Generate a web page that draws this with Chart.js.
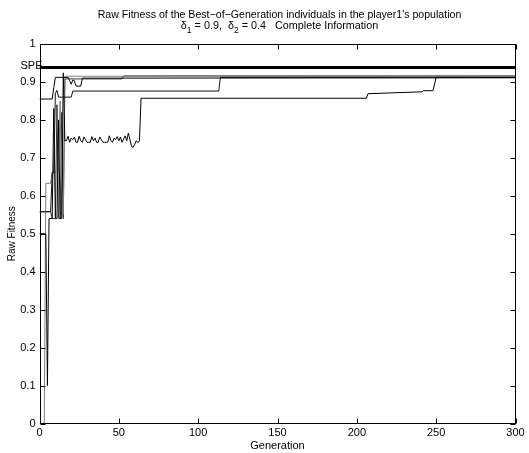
<!DOCTYPE html>
<html>
<head>
<meta charset="utf-8">
<script src="https://cdn.jsdelivr.net/npm/chart.js@4"></script>
<style>
  html, body { margin: 0; padding: 0; background: #fff; }
  #wrap { width: 529px; height: 453px; }
</style>
</head>
<body>
<div id="wrap"><canvas id="fitness"></canvas></div>
<script>
// chart data
const titleLine1 = "Raw Fitness of the Best\u2212of\u2212Generation individuals in the player1's population";
const titleLine2 = ["\u03b4", "1", " = 0.9,  \u03b4", "2", " = 0.4   Complete Information"];
const xTitle = "Generation";
const yTitle = "Raw Fitness";

const xTicks = [0, 50, 100, 150, 200, 250, 300];
const yTicks = [0, 0.1, 0.2, 0.3, 0.4, 0.5, 0.6, 0.7, 0.8, 0.9, 1];
const yTickLabels = ["0", "0.1", "0.2", "0.3", "0.4", "0.5", "0.6", "0.7", "0.8", "0.9", "1"];

const speLabel = "SPE";
const speGens = [0, 300];
const speVals = [0.938, 0.938];

// run A: starts high, small dips early
const aGens = [0, 8, 9, 10, 18, 19, 20, 21, 22, 23, 26, 27, 28, 300];
const aVals = [0.855, 0.855, 0.885, 0.912, 0.912, 0.903, 0.894, 0.905, 0.903, 0.889, 0.889, 0.91, 0.91, 0.911];

// run B
const bGens = [0, 7, 8, 9, 10, 11, 12, 20, 21, 113, 114, 300];
const bVals = [0.558, 0.558, 0.66, 0.66, 0.87, 0.878, 0.86, 0.86, 0.876, 0.876, 0.912, 0.912];

// run C: the noisy one
const cGens = [0, 4, 5, 6, 8, 9, 10, 11, 12, 13, 14, 15, 16,
  17, 18, 19, 20, 21, 22, 23, 24, 25, 26, 27, 28, 29, 30, 31, 32, 33, 34, 35, 36, 37, 38, 39, 40,
  41, 42, 43, 44, 45, 46, 47, 48, 49, 50, 51, 52, 53, 54, 55, 56, 57, 58, 59, 60, 61, 62, 63,
  64, 206, 207, 241, 242, 248, 250, 300];
const cVals = [0.5, 0.5, 0.1, 0.54, 0.54, 0.83, 0.54, 0.54, 0.8, 0.54, 0.54, 0.924, 0.745,
  0.745, 0.757, 0.741, 0.752, 0.748, 0.755, 0.741, 0.741, 0.757, 0.745, 0.741, 0.755, 0.748, 0.741, 0.741, 0.741, 0.756, 0.745, 0.752, 0.741, 0.741, 0.755, 0.748, 0.741,
  0.741, 0.741, 0.741, 0.758, 0.745, 0.741, 0.752, 0.748, 0.756, 0.745, 0.755, 0.741, 0.75, 0.758, 0.745, 0.765, 0.748, 0.73, 0.728, 0.735, 0.745, 0.74, 0.745,
  0.857, 0.857, 0.869, 0.874, 0.877, 0.877, 0.912, 0.912];

// run D (grey)
const dGens = [0, 3, 4, 7, 8, 12, 13, 14, 15, 16, 300];
const dVals = [0, 0, 0.633, 0.633, 0.663, 0.663, 0.85, 0.55, 0.55, 0.915, 0.915];

// run E
const eGens = [0, 7, 8, 10, 11, 12, 13, 14, 15, 16, 52, 53, 300];
const eVals = [0.558, 0.558, 0.54, 0.54, 0.84, 0.54, 0.54, 0.82, 0.54, 0.908, 0.908, 0.916, 0.916];

const toPoints = (gens, vals) => gens.map((g, i) => ({ x: g, y: vals[i] }));

const fontFamily = '"Liberation Sans", Arial, Helvetica, sans-serif';

const series = (gens, vals, color, width) => ({
  data: toPoints(gens, vals),
  borderColor: color,
  borderWidth: width,
  pointRadius: 0,
  tension: 0,
  fill: false
});

// matlab-like box, inward ticks, SPE tag and the two-line title
const framePlugin = {
  id: "framePlugin",
  afterDraw(chart) {
    const { ctx, chartArea: a, scales } = chart;
    const x = scales.x, y = scales.y;
    const L = Math.round(a.left) + 0.5, R = Math.round(a.right) - 0.5;
    const T = Math.round(a.top) + 0.5, B = Math.round(a.bottom) - 0.5;
    ctx.save();
    ctx.strokeStyle = "#000";
    ctx.lineWidth = 1;
    ctx.strokeRect(L, T, R - L, B - T);
    ctx.beginPath();
    xTicks.forEach(v => {
      const px = Math.round(x.getPixelForValue(v)) + 0.5;
      ctx.moveTo(px, B); ctx.lineTo(px, B - 5);
      ctx.moveTo(px, T); ctx.lineTo(px, T + 5);
    });
    yTicks.forEach(v => {
      const py = Math.round(y.getPixelForValue(v)) + 0.5;
      ctx.moveTo(L, py); ctx.lineTo(L + 5, py);
      ctx.moveTo(R, py); ctx.lineTo(R - 5, py);
    });
    ctx.stroke();

    ctx.fillStyle = "#000";
    ctx.font = "11px " + fontFamily;
    ctx.textAlign = "right";
    ctx.textBaseline = "alphabetic";
    ctx.fillText(speLabel, L + 2, y.getPixelForValue(speVals[0]) + 1);

    // title
    const cx = (a.left + a.right) / 2 + 2;
    ctx.font = "10.6px " + fontFamily;
    ctx.textAlign = "center";
    ctx.fillText(titleLine1, cx, 18);

    const big = "10.8px " + fontFamily, small = "8.5px " + fontFamily;
    let total = 0;
    titleLine2.forEach((s, i) => {
      ctx.font = i % 2 ? small : big;
      total += ctx.measureText(s).width;
    });
    let px = cx - total / 2;
    ctx.textAlign = "left";
    titleLine2.forEach((s, i) => {
      ctx.font = i % 2 ? small : big;
      ctx.fillText(s, px, i % 2 ? 32.5 : 29);
      px += ctx.measureText(s).width;
    });
    ctx.restore();
  }
};

new Chart(document.getElementById("fitness"), {
  type: "line",
  data: {
    datasets: [
      series(speGens, speVals, "#000", 3),
      series(aGens, aVals, "#000", 1),
      series(bGens, bVals, "#111", 1),
      series(cGens, cVals, "#000", 1),
      series(dGens, dVals, "#808080", 1),
      series(eGens, eVals, "#333", 1)
    ]
  },
  options: {
    responsive: true,
    maintainAspectRatio: false,
    animation: false,
    events: [],
    layout: { padding: { left: 0, right: 13.5, top: 44, bottom: 0 } },
    plugins: {
      legend: { display: false },
      tooltip: { enabled: false }
    },
    scales: {
      x: {
        type: "linear",
        min: 0,
        max: 300,
        grid: { display: false, drawTicks: false },
        border: { display: false },
        afterBuildTicks: scale => { scale.ticks = xTicks.map(v => ({ value: v })); },
        afterFit: scale => { scale.height = 29.5; },
        ticks: {
          autoSkip: false,
          maxRotation: 0,
          padding: 3,
          color: "#000",
          font: { family: fontFamily, size: 11 }
        },
        title: {
          display: true,
          text: xTitle,
          color: "#000",
          padding: { top: 0, bottom: 0.5 },
          font: { family: fontFamily, size: 11 }
        }
      },
      y: {
        min: 0,
        max: 1,
        grid: { display: false, drawTicks: false },
        border: { display: false },
        afterBuildTicks: scale => { scale.ticks = yTicks.map(v => ({ value: v })); },
        afterFit: scale => { scale.width = 39.5; },
        ticks: {
          autoSkip: false,
          padding: 4,
          color: "#000",
          font: { family: fontFamily, size: 11 },
          callback: (v, i) => yTickLabels[i]
        },
        title: {
          display: true,
          text: yTitle,
          color: "#000",
          padding: { top: 6, bottom: 0 },
          font: { family: fontFamily, size: 10 }
        }
      }
    }
  },
  plugins: [framePlugin]
});
</script>
</body>
</html>
